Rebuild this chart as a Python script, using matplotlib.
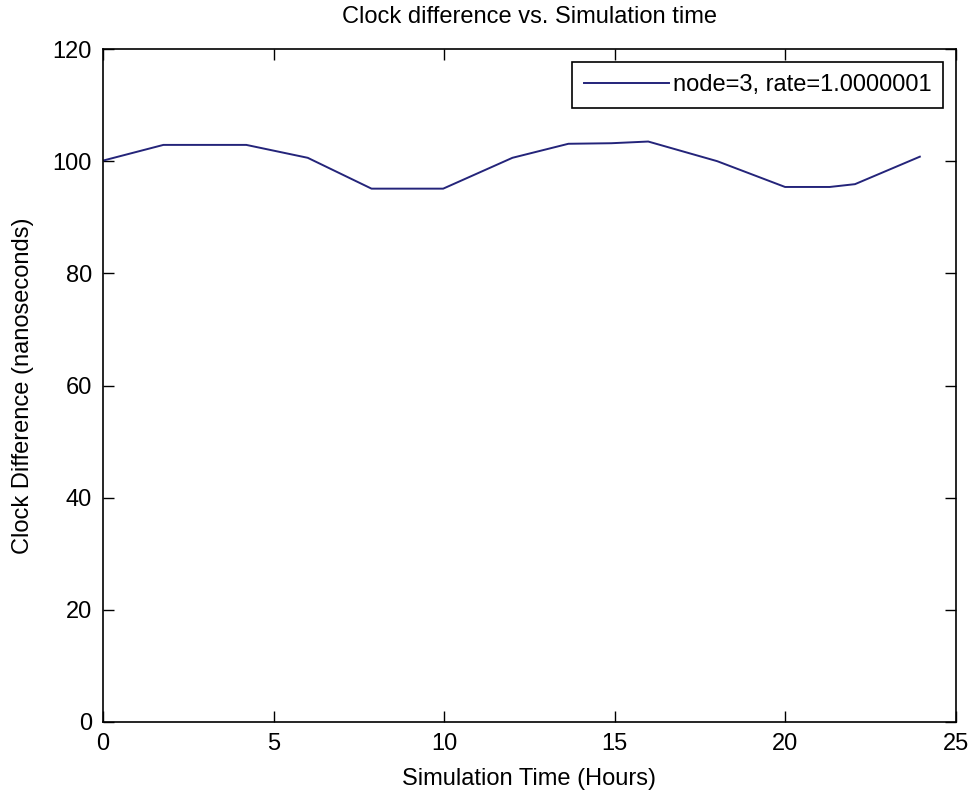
import matplotlib
matplotlib.use("Agg")
import matplotlib.pyplot as plt

plt.rcParams['font.family'] = ['Liberation Sans', 'DejaVu Sans']

time_hours = [0, 1.77, 4.2, 6.0, 7.87, 9.97, 12.0, 13.64, 14.9, 15.98, 18.0, 19.99, 21.3, 22.04, 23.94]
clock_diff = [100.1, 102.9, 102.9, 100.6, 95.1, 95.1, 100.6, 103.1, 103.2, 103.5, 100.0, 95.4, 95.4, 95.9, 100.8]
legend_label = "node=3, rate=1.0000001"
x_ticks = [0, 5, 10, 15, 20, 25]
y_ticks = [0, 20, 40, 60, 80, 100, 120]

fig = plt.figure(figsize=(9.73, 7.97), dpi=100)
ax = fig.add_axes([103/973, 1-722/797, (956-103)/973, (722-49)/797])
ax.plot(time_hours, clock_diff, color='#24247a', lw=1.4, label=legend_label)
ax.set_xlim(0, 25)
ax.set_ylim(0, 120)
ax.set_xticks(x_ticks)
ax.set_yticks(y_ticks)
fs = 17
ax.tick_params(direction='in', length=8, width=1, top=True, right=True, labelsize=fs, pad=8)
for s in ax.spines.values():
    s.set_linewidth(1.2)
ax.set_title("Clock difference vs. Simulation time", fontsize=fs, pad=19)
ax.set_xlabel("Simulation Time (Hours)", fontsize=fs, labelpad=9)
ax.set_ylabel("Clock Difference (nanoseconds)", fontsize=fs, labelpad=13)
leg = ax.legend(loc='upper right', fontsize=fs, fancybox=False, edgecolor='black',
                framealpha=1, handlelength=3.6, borderaxespad=0.55, handletextpad=0.15,
                borderpad=0.5)
leg.get_frame().set_linewidth(1.2)
fig.savefig("out.png", dpi=100)
